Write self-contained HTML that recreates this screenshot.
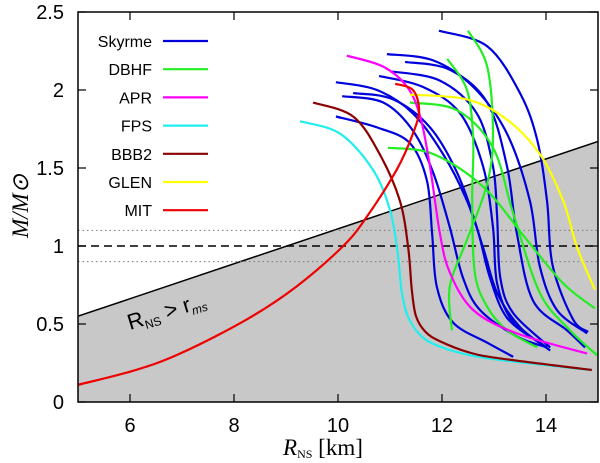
<!DOCTYPE html>
<html><head><meta charset="utf-8"><style>
body{margin:0;background:#fff}
svg{display:block}
.sans{font-family:"Liberation Sans",sans-serif}
.serif{font-family:"Liberation Serif",serif}
</style></head><body>
<svg id="chart" width="600" height="463" viewBox="0 0 600 463" xmlns="http://www.w3.org/2000/svg">
<defs><clipPath id="clip"><rect x="78" y="12" width="520" height="390"/></clipPath></defs>
<g id="plot" clip-path="url(#clip)"></g>
<g id="axes"></g>
<g id="legend"></g>
</svg>
<script>
const xTicks=[6,8,10,12,14];
const yTicks=[0,0.5,1,1.5,2,2.5];
const yTickLabels=["0","0.5","1","1.5","2","2.5"];
const shadeLine=[[5,0.55],[15,1.67]];
const refLevels=[0.9,1.0,1.1];
const legendNames=["Skyrme","DBHF","APR","FPS","BBB2","GLEN","MIT"];
const legendColors=["#0000dd","#22ee22","#ff00ff","#22eeee","#8b0000","#ffff00","#ee0000"];
const skyrme=[
[[11.94,2.38],[12.87,2.28],[13.5,1.98],[13.83,1.68],[14.02,1.29],[14.13,0.87],[14.52,0.53],[14.81,0.45]],
[[10.94,2.23],[11.83,2.19],[12.6,2.02],[13.25,1.72],[13.69,1.29],[13.88,0.87],[14.21,0.59],[14.79,0.44]],
[[11.29,2.18],[12.15,2.13],[12.87,1.92],[13.25,1.51],[13.44,1.08],[13.75,0.65],[14.4,0.46],[14.75,0.35]],
[[11.0,2.12],[11.96,2.06],[12.67,1.85],[12.98,1.51],[13.06,1.19],[13.12,0.8],[13.37,0.57],[14.08,0.35]],
[[10.79,2.09],[11.63,2.02],[12.35,1.85],[12.79,1.51],[12.98,1.12],[13.06,0.76],[13.37,0.51],[14.02,0.35]],
[[9.96,2.05],[10.75,2.0],[11.44,1.85],[12.02,1.59],[12.48,1.29],[12.79,0.99],[13.06,0.7],[13.5,0.48],[14.08,0.33]],
[[10.29,1.98],[11.06,1.94],[11.77,1.76],[12.29,1.47],[12.67,1.12],[12.92,0.8],[13.25,0.54],[13.88,0.38]],
[[10.08,1.96],[10.87,1.92],[11.44,1.74],[11.83,1.47],[12.15,1.12],[12.4,0.8],[12.73,0.59],[13.44,0.42],[14.02,0.35]],
[[9.96,1.83],[10.75,1.76],[11.38,1.66],[11.71,1.42],[11.81,1.08],[11.9,0.74],[12.21,0.51],[12.87,0.38],[13.37,0.29]]
];
const dbhf=[
[[10.96,1.63],[11.83,1.59],[12.79,1.38],[13.63,1.04],[14.33,0.76],[14.94,0.6]],
[[11.38,1.92],[12.29,1.87],[12.98,1.63],[13.37,1.21],[13.88,0.7],[14.46,0.46],[14.98,0.3]],
[[12.1,2.2],[12.48,2.0],[12.6,1.68],[12.58,1.29],[12.63,0.83],[12.87,0.61],[13.25,0.46],[13.83,0.35]],
[[12.5,2.38],[12.87,2.15],[12.98,1.72],[12.87,1.4],[12.48,1.04],[12.15,0.74],[12.19,0.46]]
];
const apr=[[10.17,2.22],[10.87,2.15],[11.33,2.02],[11.58,1.83],[11.77,1.51],[11.96,1.08],[12.15,0.83],[12.6,0.59],[13.44,0.44],[14.79,0.31]];
const fps=[[9.27,1.8],[10.04,1.72],[10.67,1.49],[11.0,1.23],[11.15,0.95],[11.22,0.72],[11.33,0.56],[11.55,0.44],[11.85,0.37],[12.4,0.31],[13.1,0.27],[14.87,0.205]];
const bbb2=[[9.52,1.92],[10.29,1.83],[10.8,1.59],[11.19,1.29],[11.35,0.99],[11.42,0.72],[11.5,0.55],[11.68,0.45],[11.96,0.39],[12.5,0.32],[13.1,0.28],[14.88,0.205]];
const glen=[[11.38,1.97],[12.48,1.94],[13.25,1.81],[13.88,1.59],[14.33,1.29],[14.6,0.99],[14.94,0.72]];
const mit=[[5,0.11],[6.06,0.2],[6.96,0.31],[8.25,0.53],[9.2,0.74],[10.1,1.0],[10.56,1.19],[11.13,1.49],[11.44,1.72],[11.56,1.87],[11.44,2.0],[11.1,2.04]];

const NS="http://www.w3.org/2000/svg";
const X0=78,X1=598,Y0=402,Y1=12;
const sx=v=>X0+(v-5)/10*(X1-X0);
const sy=v=>Y0-(v/2.5)*(Y0-Y1);
function mk(tag,attrs,parent){const e=document.createElementNS(NS,tag);for(const k in attrs)e.setAttribute(k,attrs[k]);parent.appendChild(e);return e;}
function smooth(pts){const p=pts.map(d=>[sx(d[0]),sy(d[1])]);let s="M"+p[0][0].toFixed(1)+","+p[0][1].toFixed(1);
for(let i=0;i<p.length-1;i++){const a=p[i-1]||p[i],b=p[i],c=p[i+1],d=p[i+2]||c;
s+=" C"+(b[0]+(c[0]-a[0])/6).toFixed(1)+","+(b[1]+(c[1]-a[1])/6).toFixed(1)+" "+(c[0]-(d[0]-b[0])/6).toFixed(1)+","+(c[1]-(d[1]-b[1])/6).toFixed(1)+" "+c[0].toFixed(1)+","+c[1].toFixed(1);}return s;}
const plot=document.getElementById('plot'),axes=document.getElementById('axes'),legend=document.getElementById('legend');
const sh=mk('polygon',{points:`${sx(shadeLine[0][0])},${sy(shadeLine[0][1])} ${sx(shadeLine[1][0])},${sy(shadeLine[1][1])} ${X1},${Y0} ${X0},${Y0}`,fill:'#c8c8c8'},plot);


const sl=mk('line',{x1:sx(shadeLine[0][0]),y1:sy(shadeLine[0][1]),x2:sx(shadeLine[1][0]),y2:sy(shadeLine[1][1]),stroke:'#000','stroke-width':1.5},plot);


refLevels.forEach(v=>{const l=mk('line',{x1:X0,x2:X1,y1:sy(v),y2:sy(v),stroke:v===1?'#000':'#777','stroke-width':v===1?1.5:1,'stroke-dasharray':v===1?'8,5':'1.5,3'},plot);

});
function curve(pts,color,name,w){const p=mk('path',{d:smooth(pts),fill:'none',stroke:color,'stroke-width':w||2.2},plot);

}
skyrme.forEach((c,i)=>curve(c,legendColors[0],'skyrme-curve-'+(i+1)));
dbhf.forEach((c,i)=>curve(c,legendColors[1],'dbhf-curve-'+(i+1)));
curve(apr,legendColors[2],'apr-curve');
curve(fps,legendColors[3],'fps-curve');
curve(bbb2,legendColors[4],'bbb2-curve');
curve(glen,legendColors[5],'glen-curve');
curve(mit,legendColors[6],'mit-curve');
const rl=mk('text',{x:130,y:330,'font-size':22,'class':'sans',transform:'rotate(-17 130 330)'},plot);


rl.innerHTML='R<tspan font-size="12" dy="4">NS</tspan><tspan dy="-4"> &gt; r</tspan><tspan font-size="12" font-style="italic" dy="4">ms</tspan>';
const fr=mk('rect',{x:X0,y:Y1,width:X1-X0,height:Y0-Y1,fill:'none',stroke:'#000','stroke-width':1.5},axes);


xTicks.forEach(v=>{mk('line',{x1:sx(v),x2:sx(v),y1:Y0,y2:Y0-8,stroke:'#000','stroke-width':1.2},axes);mk('line',{x1:sx(v),x2:sx(v),y1:Y1,y2:Y1+8,stroke:'#000','stroke-width':1.2},axes);
const t=mk('text',{x:sx(v),y:432,'font-size':20,'text-anchor':'middle','class':'sans'},axes);t.textContent=v;

});
yTicks.forEach((v,i)=>{mk('line',{x1:X0,x2:X0+8,y1:sy(v),y2:sy(v),stroke:'#000','stroke-width':1.2},axes);mk('line',{x1:X1,x2:X1-8,y1:sy(v),y2:sy(v),stroke:'#000','stroke-width':1.2},axes);
const t=mk('text',{x:64,y:sy(v)+7,'font-size':20,'text-anchor':'end','class':'sans'},axes);t.textContent=yTickLabels[i];

});
const xt=mk('text',{x:283,y:455,'font-size':23,'class':'serif'},axes);


xt.innerHTML='<tspan font-style="italic">R</tspan><tspan font-size="12" dy="3">NS</tspan><tspan dy="-3"> [km]</tspan>';
const yt=mk('text',{x:0,y:0,'font-size':23,'class':'serif','font-style':'italic',transform:'translate(28,238) rotate(-90)'},axes);


yt.textContent='M/M\u2299';
legendNames.forEach((n,i)=>{const y=41+i*28.2;const g=mk('g',{},legend);


const t=mk('text',{x:152,y:y+6,'font-size':16,'text-anchor':'end','class':'sans'},g);t.textContent=n;
mk('line',{x1:163,x2:208,y1:y,y2:y,stroke:legendColors[i],'stroke-width':2.2},g);});
</script>
</body></html>
